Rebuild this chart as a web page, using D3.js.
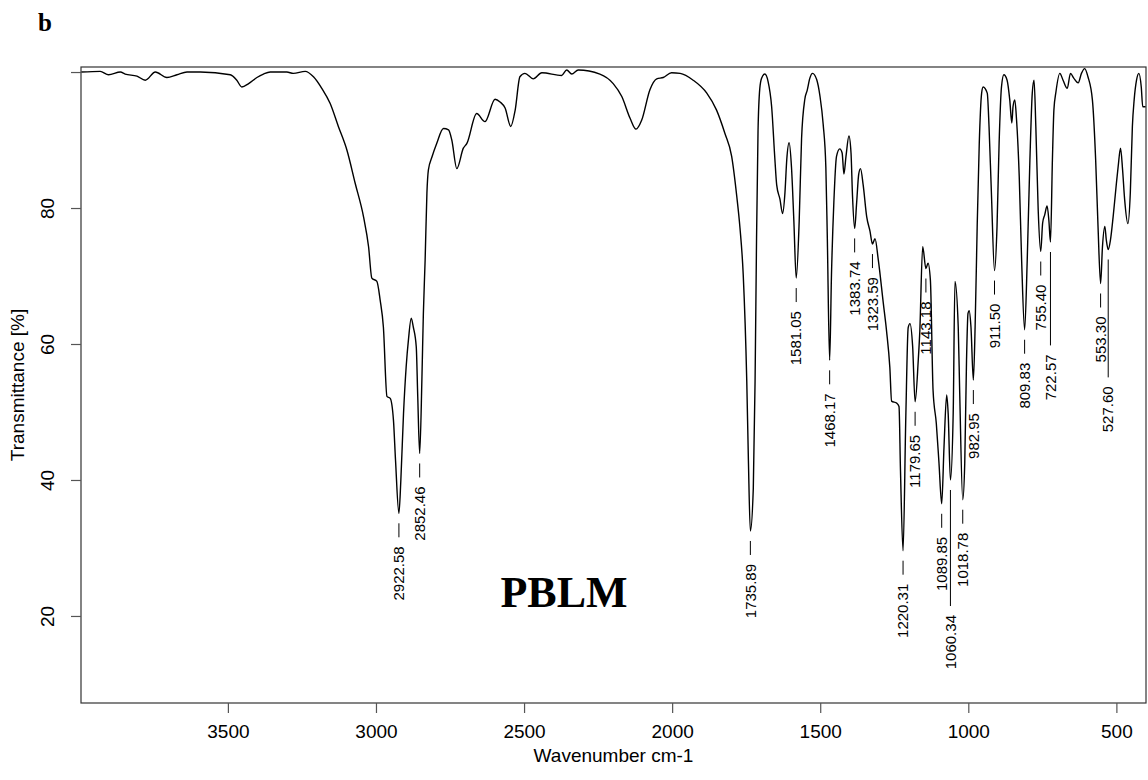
<!DOCTYPE html>
<html><head><meta charset="utf-8">
<script src="https://cdn.jsdelivr.net/npm/d3@7"></script>
<style>html,body{margin:0;padding:0;background:#fff;} svg{display:block}</style>
</head><body>
<svg id="chart" width="1148" height="780"></svg>
<script>
// FT-IR spectrum of PBLM: [wavenumber cm-1, transmittance %]
const spectrum = [
[3995,100.0],[3931,100.1],[3903,99.6],[3863,100.0],[3847,99.7],[3807,99.4],[3779,98.8],[3745,100.0],
[3706,99.2],[3672,99.6],[3638,100.0],[3593,100.0],[3492,99.6],[3470,98.8],[3453,97.8],[3430,98.3],
[3402,99.2],[3380,99.7],[3357,100.0],[3301,100.0],[3279,99.8],[3239,100.1],[3211,99.3],[3183,97.6],
[3155,95.4],[3127,92.0],[3098,88.5],[3070,83.6],[3042,78.7],[3025,74.3],[3014,69.7],[2997,69.2],
[2986,66.5],[2975,62.5],[2963,52.3],[2952,52.0],[2941,48.8],[2934,42.9],[2922.58,35.1],[2916,40.0],
[2907,49.8],[2898,56.7],[2890,60.8],[2881,63.8],[2874,62.5],[2864,59.6],[2859,52.3],[2852.46,43.9],
[2845,54.7],[2840,64.5],[2834,72.4],[2828,82.2],[2823,85.6],[2811,87.5],[2795,89.5],[2772,91.7],
[2755,91.5],[2744,90.0],[2727,85.8],[2705,88.8],[2693,89.5],[2660,93.9],[2632,92.7],[2598,96.0],
[2581,95.6],[2564,94.7],[2545,92.0],[2530,94.4],[2514,99.3],[2497,99.8],[2469,99.0],[2440,99.9],
[2373,99.5],[2356,100.3],[2339,99.7],[2317,100.3],[2244,99.7],[2199,98.3],[2170,96.4],[2142,93.2],
[2122,91.6],[2103,92.9],[2075,97.4],[2052,99.0],[2030,99.2],[2002,99.9],[1973,99.8],[1929,98.8],
[1883,96.9],[1850,94.4],[1822,91.0],[1799,87.6],[1782,81.8],[1771,77.1],[1760,70.2],[1748,54.5],
[1742.5,42.9],[1735.89,32.5],[1726,38.7],[1720,54.5],[1715,75.5],[1710,91.3],[1704,97.6],[1698,99.1],
[1687,99.7],[1676,98.6],[1664,94.9],[1653,87.1],[1647,83.4],[1636,81.3],[1627,79.2],[1619,82.3],
[1613,87.1],[1605,89.6],[1597,86.0],[1589,78.1],[1581.05,69.7],[1571,78.1],[1563,90.2],[1552,96.0],
[1544,97.3],[1535,99.1],[1526,99.8],[1512,98.9],[1501,96.5],[1490,92.3],[1481,86.0],[1476,75.5],
[1468.17,57.6],[1462,70.2],[1454,80.8],[1445,87.6],[1434,88.7],[1426,88.1],[1420,85.0],[1413,87.6],
[1403,90.6],[1396,88.1],[1391,81.8],[1383.74,77.0],[1377,80.8],[1370,85.0],[1364,85.8],[1355,83.4],
[1343,78.7],[1332,76.6],[1323.59,74.7],[1315,75.5],[1304,72.4],[1287,66.0],[1276,61.9],[1265,56.6],
[1259,51.6],[1242,51.3],[1234,50.8],[1229,41.4],[1220.31,29.6],[1211,49.3],[1203,62.4],[1197,63.0],
[1188,59.7],[1179.65,51.5],[1169,57.6],[1164,61.6],[1154,74.3],[1143.18,71.1],[1136,71.9],[1128,69.4],
[1119,53.2],[1108,48.3],[1099,42.5],[1089.85,36.5],[1082,44.9],[1073,52.5],[1068,49.8],[1060.34,40.0],
[1051,49.8],[1045,69.2],[1034,62.5],[1029,52.8],[1018.78,37.1],[1012,42.5],[1006,57.6],[1001,64.5],
[997,64.9],[991,62.5],[982.95,54.7],[977,62.5],[970,77.3],[963,89.5],[955,96.9],[950,97.8],
[936,96.9],[930,92.0],[922,82.2],[911.50,70.8],[903,77.3],[896,89.5],[888,97.8],[880,99.6],
[869,98.8],[860,95.9],[853,92.5],[849,94.9],[843,95.9],[837,92.9],[828,84.6],[820,72.4],
[809.83,62.1],[801,72.4],[792,87.1],[784,96.9],[778,98.8],[772,92.0],[764,79.7],[755.40,73.6],
[749,77.8],[742,79.0],[734,80.3],[728,78.2],[722.57,75.0],[716,87.1],[711,94.4],[704,97.1],
[691,99.8],[680,98.8],[666,97.6],[655,99.8],[644,99.1],[629,98.4],[618,99.8],[607,100.5],
[596,99.3],[581,95.9],[570,87.1],[562,77.3],[553.30,68.9],[547,74.3],[539,77.3],[534,75.3],
[527.60,73.9],[520,75.3],[511,78.7],[500,83.6],[494,86.1],[486,88.8],[479,85.6],[472,81.2],
[461,77.7],[453,82.2],[446,92.0],[440,95.9],[432,98.8],[424,99.8],[416,97.8],[411,94.9],[401,94.9]
];
const peakWavenumbers = [2922.58,2852.46,1735.89,1581.05,1468.17,1383.74,1323.59,1220.31,1179.65,1143.18,
  1089.85,1060.34,1018.78,982.95,911.50,809.83,755.40,722.57,553.30,527.60];
const peakLabels = ["2922.58","2852.46","1735.89","1581.05","1468.17","1383.74","1323.59","1220.31","1179.65","1143.18",
  "1089.85","1060.34","1018.78","982.95","911.50","809.83","755.40","722.57","553.30","527.60"];
const xTickValues = [3500,3000,2500,2000,1500,1000,500];
const xTickLabels = ["3500","3000","2500","2000","1500","1000","500"];
const yTickValues = [20,40,60,80,100];
const yTickLabels = ["20","40","60","80",""];
const panelLetter = "b";
const sampleName = "PBLM";
const xTitle = "Wavenumber cm-1";
const yTitle = "Transmittance [%]";

const m = {left:81, right:1146, top:67, bottom:703};
const x = d3.scaleLinear().domain([3996,400]).range([m.left,m.right]);
const y = d3.scaleLinear().domain([7.2,100.74]).range([m.bottom,m.top]);
const svg = d3.select("#chart");
const sans = "'Liberation Sans', Arial, Helvetica, sans-serif";
const serif = "'Liberation Serif', 'Times New Roman', serif";

svg.append("defs").append("clipPath").attr("id","clip").append("rect")
  .attr("x",m.left).attr("y",m.top).attr("width",m.right-m.left).attr("height",m.bottom-m.top);

// spectrum
svg.append("path").datum(spectrum)
  .attr("clip-path","url(#clip)")
  .attr("fill","none").attr("stroke","#000").attr("stroke-width",1.4)
  .attr("stroke-linejoin","round")
  .attr("d", d3.line().curve(d3.curveMonotoneX).x(d=>x(d[0])).y(d=>y(d[1])));

// frame
svg.append("rect").attr("x",m.left).attr("y",m.top)
  .attr("width",m.right-m.left).attr("height",m.bottom-m.top)
  .attr("fill","none").attr("stroke","#333").attr("stroke-width",1.2);

// x axis
const gx = svg.append("g").attr("transform",`translate(0,${m.bottom})`)
  .call(d3.axisBottom(x).tickValues(xTickValues).tickFormat((d,i)=>xTickLabels[i]).tickSize(10).tickPadding(12));
gx.select(".domain").remove();
gx.selectAll(".tick line").attr("stroke","#555").attr("stroke-width",1.2);
gx.selectAll("text").attr("font-family",sans).attr("font-size",19).attr("fill","#000");

// y axis
const gy = svg.append("g").attr("transform",`translate(${m.left},0)`)
  .call(d3.axisLeft(y).tickValues(yTickValues).tickFormat((d,i)=>yTickLabels[i]).tickSize(10));
gy.select(".domain").remove();
gy.selectAll(".tick line").attr("stroke","#555").attr("stroke-width",1.2);
gy.selectAll("text").attr("font-family",sans).attr("font-size",19).attr("fill","#000")
  .attr("transform","rotate(-90)").attr("x",0).attr("y",-27).attr("dy",0).attr("text-anchor","middle");

// axis titles
svg.append("text").attr("x",(m.left+m.right)/2).attr("y",762).attr("text-anchor","middle")
  .attr("font-family",sans).attr("font-size",19).text(xTitle);
svg.append("text").attr("transform",`translate(24,${(m.top+m.bottom)/2}) rotate(-90)`).attr("text-anchor","middle")
  .attr("font-family",sans).attr("font-size",19).text(yTitle);

// panel letter and sample name
svg.append("text").attr("x",38).attr("y",31).attr("font-family",serif).attr("font-weight","bold")
  .attr("font-size",25).text(panelLetter);
svg.append("text").attr("x",564).attr("y",607).attr("text-anchor","middle").attr("font-family",serif)
  .attr("font-weight","bold").attr("font-size",44).text(sampleName);

// peak labels
const peaks = peakWavenumbers.map((w,i)=>{
  const pt = spectrum.reduce((a,b)=>Math.abs(b[0]-w)<Math.abs(a[0]-w)?b:a);
  return {w, label:peakLabels[i], T:pt[1]};
});
const gl = svg.append("g");
const placed = [];
peaks.slice().sort((a,b)=>a.T-b.T).forEach(p=>{
  const px = x(p.w), py = y(p.T);
  const t = gl.append("text").attr("font-family",sans).attr("font-size",15)
    .attr("text-anchor","end").attr("dy","0.35em").attr("fill","#000").text(p.label);
  const len = t.node().getComputedTextLength();
  let top = py + 33, moved = true;
  while (moved) {
    moved = false;
    for (const q of placed) {
      if (Math.abs(q.px-px) < 13 && top < q.bottom + 6 && top + len > q.top - 6) {
        top = q.bottom + 24; moved = true;
      }
    }
  }
  t.attr("transform",`translate(${px},${top}) rotate(-90)`);
  gl.append("line").attr("x1",px).attr("x2",px).attr("y1",py+10).attr("y2",top-9)
    .attr("stroke","#000").attr("stroke-width",1);
  placed.push({px, top, bottom: top+len});
});
</script>
</body></html>
